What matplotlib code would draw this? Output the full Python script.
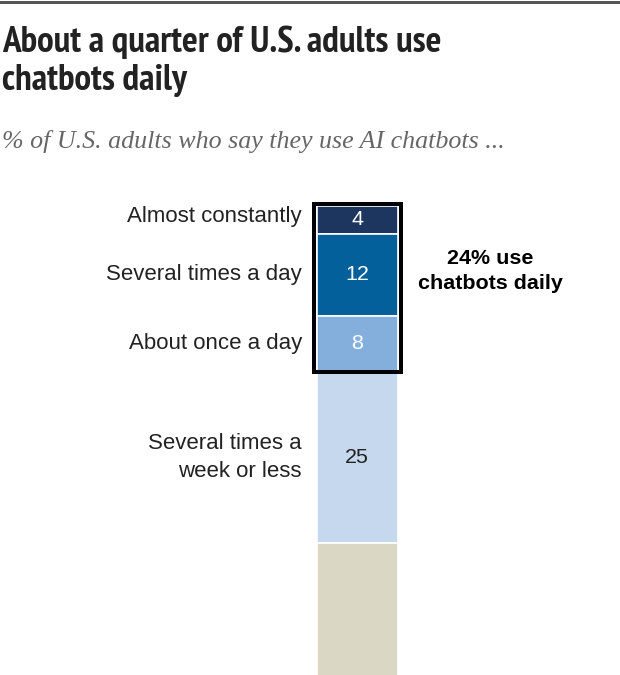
import matplotlib
matplotlib.use("Agg")
import matplotlib.pyplot as plt
from matplotlib.patches import Rectangle
from matplotlib import font_manager
from matplotlib.font_manager import FontProperties

# ---- data ----
categories = ["Almost constantly", "Several times a day", "About once a day",
              "Several times a\nweek or less", "Other"]
values = [4, 12, 8, 25, 51]
value_labels = ["4", "12", "8", "25", ""]
colors = ["#1c365f", "#03609a", "#84afdd", "#c5d8ee", "#dad7c5"]
label_colors = ["white", "white", "white", "#222222", "#222222"]
daily_total = 24
daily_note = "24% use\nchatbots daily"
title_lines = ["About a quarter of U.S. adults use", "chatbots daily"]
subtitle = "% of U.S. adults who say they use AI chatbots ..."

# look for a condensed bold face for the title
def _wt(f):
    return f.weight if isinstance(f.weight, int) else (700 if "bold" in str(f.weight) else 400)

narrow = None
cond = None
for f in font_manager.fontManager.ttflist:
    nm = f.name.lower()
    st = str(f.stretch).lower()
    if _wt(f) >= 600 and f.style == "normal":
        if "narrow" in nm and narrow is None:
            narrow = f.fname
        if ("condensed" in nm or "condensed" in st) and cond is None:
            cond = f.fname
if narrow:
    title_fp = FontProperties(fname=narrow)
    title_size = 37.2
elif cond:
    title_fp = FontProperties(fname=cond)
    title_size = 25.6
else:
    title_fp = FontProperties(family="Liberation Sans", weight="bold")
    title_size = 27.6

sans = "Liberation Sans"
serif = "Liberation Serif"

W, H = 620, 675
DPI = 100
fig = plt.figure(figsize=(W / DPI, H / DPI), dpi=DPI)

def px(v):
    return v * 72 / DPI  # px -> pt

# layout in pixels
bar_left, bar_right = 316.5, 397.5
bar_top = 206.0
ppu = 6.88  # pixels per percent
ax_h = H - bar_top
ax = fig.add_axes([0, 0, 1, ax_h / H])
xu = bar_right - bar_left
ax.set_xlim(-bar_left / xu, (W - bar_left) / xu)
ax.set_ylim(ax_h / ppu, 0)
ax.axis("off")

bottoms = []
acc = 0
for v in values:
    bottoms.append(acc)
    acc += v
ax.bar([0.5] * len(values), values, bottom=bottoms, width=1.0, color=colors,
       edgecolor="white", linewidth=1.2, align="center")

for cat, v, b, vl, lc in zip(categories, values, bottoms, value_labels, label_colors):
    c = b + v / 2
    if vl:
        ax.text(0.5, c, vl, ha="center", va="center", color=lc,
                fontsize=px(21.5), family=sans)
    if cat != "Other":
        ax.text(-14.5 / xu, c - (0.5 if v < 6 else 0), cat, ha="right", va="center",
                color="#222222", fontsize=px(22.3), family=sans, linespacing=1.45)

# black box around daily users
pad_x = 3 / xu
box = Rectangle((-pad_x, -2 / ppu), 1 + 2 * pad_x, daily_total + 2.5 / ppu,
                fill=False, edgecolor="black", linewidth=px(4), clip_on=False,
                zorder=5)
ax.add_patch(box)

ax.text((490 - bar_left) / xu, (271 - bar_top) / ppu, daily_note, ha="center",
        va="center", fontsize=px(21.5), fontweight="bold", family=sans,
        color="black", linespacing=1.45)

# titles
for line, base in zip(title_lines, [52, 90]):
    fig.text(2 / W, 1 - base / H, line, ha="left", va="baseline",
             fontproperties=title_fp, fontsize=px(title_size),
             color="#222222")
fig.text(2 / W, 1 - 148 / H, subtitle, ha="left", va="baseline",
         fontsize=px(26), style="italic", family=serif, color="#666666")

# top rule
fig.add_artist(plt.Line2D([0, 1], [1 - 1.5 / H, 1 - 1.5 / H], color="#555555",
                          linewidth=px(3), transform=fig.transFigure))

fig.savefig("out.png", dpi=DPI, facecolor="white")
